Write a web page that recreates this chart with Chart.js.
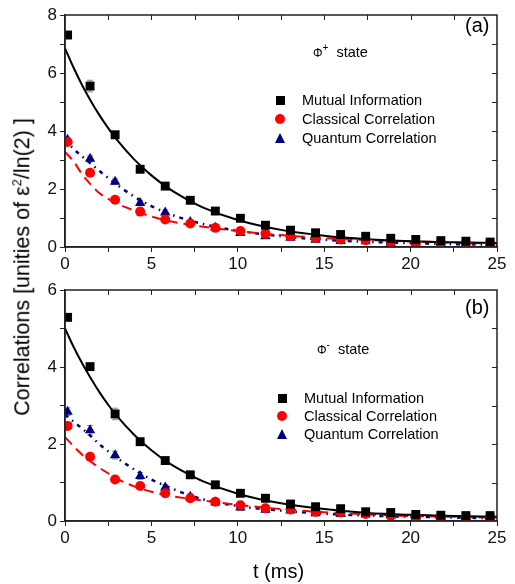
<!DOCTYPE html>
<html><head><meta charset="utf-8">
<script src="https://cdn.jsdelivr.net/npm/chart.js@4.4.0/dist/chart.umd.min.js"></script>
<style>
html,body{margin:0;padding:0;background:#fff;}
#wrap{position:relative;width:515px;height:584px;font-family:"Liberation Sans",Arial,sans-serif;color:#000;overflow:hidden;}
canvas{position:absolute;left:0;}
#cA{top:0;}
#cB{top:270px;}
.t{position:absolute;white-space:nowrap;line-height:1;}
.leg{font-size:14.5px;}
.sq{position:absolute;width:9px;height:9px;background:#000;}
.ci{position:absolute;width:10px;height:10px;border-radius:50%;background:#ff0000;}
.tr{position:absolute;width:0;height:0;border-left:5.5px solid transparent;border-right:5.5px solid transparent;border-bottom:10px solid #000080;}
sup{line-height:0;}
</style>
</head>
<body>
<div id="wrap">
<canvas id="cA" width="515" height="270" style="width:515px;height:270px"></canvas>
<canvas id="cB" width="515" height="314" style="width:515px;height:314px"></canvas>

<div class="t" style="left:23px;top:267px;width:0;height:0;">
  <div class="t" style="font-size:21.5px;transform:translate(-50%,-50%) rotate(-90deg);">Correlations [unities of ε<sup style="font-size:13px;">2</sup>/ln(2) ]</div>
</div>
<div class="t" style="left:253px;top:561px;font-size:20px;">t (ms)</div>

<div class="t" style="left:465px;top:15px;font-size:20px;">(a)</div>
<div class="t" style="left:465px;top:297px;font-size:20px;">(b)</div>

<div class="t" style="left:313px;top:45px;font-size:14.5px;"><span style="font-size:12px;">Φ</span><sup style="font-size:10px;">+</sup>&nbsp; state</div>
<div class="t" style="left:317px;top:342px;font-size:14.5px;"><span style="font-size:12px;">Φ</span><sup style="font-size:10px;">-</sup>&nbsp; state</div>

<div class="sq" style="left:276px;top:96px;"></div>
<div class="t leg" style="left:302px;top:93px;">Mutual Information</div>
<div class="ci" style="left:275px;top:114px;"></div>
<div class="t leg" style="left:302px;top:112px;">Classical Correlation</div>
<div class="tr" style="left:275px;top:133px;"></div>
<div class="t leg" style="left:302px;top:131px;">Quantum Correlation</div>

<div class="sq" style="left:278px;top:394px;"></div>
<div class="t leg" style="left:304px;top:391px;">Mutual Information</div>
<div class="ci" style="left:277px;top:411px;"></div>
<div class="t leg" style="left:304px;top:409px;">Classical Correlation</div>
<div class="tr" style="left:277px;top:429px;"></div>
<div class="t leg" style="left:304px;top:427px;">Quantum Correlation</div>
</div>

<script>
// ---- data ----
const T_POINTS = [0.15, 1.45, 2.9, 4.35, 5.8, 7.25, 8.7, 10.15, 11.6, 13.05, 14.5, 15.95, 17.4, 18.85, 20.3, 21.75, 23.2, 24.6];

// panel (a)  Phi+ state
const A_MUTUAL    = [7.31, 5.55, 3.87, 2.68, 2.10, 1.61, 1.24, 0.99, 0.75, 0.58, 0.49, 0.43, 0.37, 0.30, 0.26, 0.22, 0.20, 0.17];
const A_MUTUAL_ERR= [0.12, 0.20, 0.08, 0.06, 0.05, 0.05, 0.04, 0.04, 0.04, 0.03, 0.03, 0.03, 0.03, 0.03, 0.03, 0.03, 0.03, 0.03];
const A_CLASSICAL = [3.62, 2.56, 1.63, 1.22, 0.95, 0.81, 0.66, 0.55, 0.46, 0.38, 0.32, 0.26, 0.23, 0.17, 0.14, 0.15, 0.14, 0.13];
const A_CLASS_ERR = [0.06, 0.06, 0.06, 0.05, 0.05, 0.05, 0.05, 0.05, 0.05, 0.05, 0.05, 0.05, 0.05, 0.05, 0.04, 0.04, 0.04, 0.04];
const A_QUANTUM   = [3.70, 3.04, 2.25, 1.52, 1.19, 0.86, 0.66, 0.48, 0.37, 0.32, 0.25, 0.21, 0.20, 0.15, 0.12, 0.12, 0.09, 0.09];
const A_QUANT_ERR = [0.08, 0.10, 0.10, 0.08, 0.08, 0.07, 0.07, 0.07, 0.07, 0.07, 0.07, 0.06, 0.06, 0.06, 0.05, 0.05, 0.05, 0.05];

// panel (b)  Phi- state
const B_MUTUAL    = [5.29, 4.01, 2.78, 2.06, 1.57, 1.20, 0.94, 0.72, 0.59, 0.44, 0.37, 0.32, 0.24, 0.22, 0.17, 0.15, 0.14, 0.14];
const B_MUTUAL_ERR= [0.06, 0.06, 0.15, 0.05, 0.05, 0.04, 0.04, 0.04, 0.04, 0.03, 0.03, 0.03, 0.03, 0.03, 0.03, 0.03, 0.03, 0.03];
const B_CLASSICAL = [2.47, 1.67, 1.08, 0.91, 0.72, 0.59, 0.50, 0.41, 0.33, 0.30, 0.24, 0.22, 0.18, 0.14, 0.12, 0.10, 0.10, 0.10];
const B_CLASS_ERR = [0.06, 0.08, 0.08, 0.07, 0.06, 0.06, 0.06, 0.06, 0.05, 0.05, 0.05, 0.05, 0.05, 0.05, 0.04, 0.04, 0.04, 0.04];
const B_QUANTUM   = [2.84, 2.36, 1.71, 1.17, 0.87, 0.63, 0.48, 0.35, 0.29, 0.27, 0.20, 0.18, 0.17, 0.14, 0.10, 0.09, 0.09, 0.10];
const B_QUANT_ERR = [0.10, 0.12, 0.10, 0.09, 0.08, 0.08, 0.08, 0.08, 0.07, 0.07, 0.07, 0.06, 0.06, 0.06, 0.05, 0.05, 0.05, 0.05];

// fitted curves, sampled off the figure
const T_FIT = [0, 0.5, 1, 1.5, 2, 2.5, 3, 4, 5, 6, 7, 8, 10, 12.5, 15, 17.5, 20, 22.5, 25];
const A_MUTUAL_FIT    = [6.85, 6.18, 5.57, 5.03, 4.54, 4.10, 3.70, 3.02, 2.47, 2.02, 1.66, 1.36, 0.93, 0.59, 0.39, 0.27, 0.20, 0.16, 0.14];
const A_CLASSICAL_FIT = [3.28, 2.95, 2.50, 2.15, 1.85, 1.66, 1.50, 1.26, 1.05, 0.90, 0.79, 0.70, 0.55, 0.41, 0.31, 0.24, 0.19, 0.15, 0.12];
const A_QUANTUM_FIT   = [3.70, 3.38, 3.12, 2.87, 2.62, 2.38, 2.15, 1.74, 1.41, 1.15, 0.95, 0.79, 0.56, 0.37, 0.25, 0.18, 0.13, 0.10, 0.08];
const B_MUTUAL_FIT    = [5.00, 4.52, 4.09, 3.70, 3.34, 3.02, 2.73, 2.24, 1.84, 1.51, 1.25, 1.03, 0.71, 0.46, 0.31, 0.21, 0.16, 0.13, 0.11];
const B_CLASSICAL_FIT = [2.18, 1.94, 1.72, 1.54, 1.38, 1.24, 1.10, 0.90, 0.76, 0.66, 0.59, 0.53, 0.42, 0.31, 0.23, 0.17, 0.13, 0.11, 0.09];
const B_QUANTUM_FIT   = [2.76, 2.58, 2.40, 2.20, 1.99, 1.81, 1.64, 1.34, 1.08, 0.88, 0.70, 0.56, 0.39, 0.27, 0.19, 0.14, 0.11, 0.09, 0.07];

// tick labels
const X_TICK_LABELS = [0, 5, 10, 15, 20, 25];
const A_Y_TICK_LABELS = [0, 2, 4, 6, 8];
const B_Y_TICK_LABELS = [0, 2, 4, 6];

const AXIS = '#222';
const FONT = 'Liberation Sans, Arial, sans-serif';

const errorBars = {
  id: 'errorBars',
  beforeDatasetsDraw(chart) {
    const ctx = chart.ctx, ys = chart.scales.y;
    ctx.save();
    ctx.strokeStyle = '#8a8a8a';
    ctx.lineWidth = 1;
    chart.data.datasets.forEach((ds, di) => {
      if (!ds.errors) return;
      const meta = chart.getDatasetMeta(di);
      meta.data.forEach((pt, i) => {
        const e = ds.errors[i]; if (!e) return;
        const v = ds.data[i].y;
        const y1 = ys.getPixelForValue(v + e), y2 = ys.getPixelForValue(v - e);
        ctx.beginPath();
        ctx.moveTo(pt.x, y1); ctx.lineTo(pt.x, y2);
        ctx.moveTo(pt.x - 3, y1); ctx.lineTo(pt.x + 3, y1);
        ctx.moveTo(pt.x - 3, y2); ctx.lineTo(pt.x + 3, y2);
        ctx.stroke();
      });
    });
    ctx.restore();
  }
};

const frame = {
  id: 'frame',
  afterDraw(chart) {
    const ctx = chart.ctx, a = chart.chartArea;
    const xs = chart.scales.x, ys = chart.scales.y;
    ctx.save();
    ctx.strokeStyle = AXIS;
    ctx.lineWidth = 1.5;
    ctx.strokeRect(a.left, a.top, a.right - a.left, a.bottom - a.top);
    ctx.lineWidth = 1;
    ctx.beginPath();
    xs.ticks.forEach(t => {
      const px = Math.round(xs.getPixelForValue(t.value)) + 0.5;
      if (px <= a.left + 1 || px >= a.right - 1) return;
      ctx.moveTo(px, a.top); ctx.lineTo(px, a.top + 5);
    });
    ys.ticks.forEach(t => {
      const py = Math.round(ys.getPixelForValue(t.value)) + 0.5;
      if (py <= a.top + 1 || py >= a.bottom - 1) return;
      ctx.moveTo(a.right, py); ctx.lineTo(a.right - 5, py);
    });
    ctx.stroke();
    ctx.restore();
  }
};

function pts(xs, ys) { return xs.map((x, i) => ({ x: x, y: ys[i] })); }

function makePanel(id, d, yMax, yLabels, padTop, xHeight) {
  return new Chart(document.getElementById(id), {
    type: 'scatter',
    data: {
      datasets: [
        { label: 'Mutual Information', data: pts(T_POINTS, d.mi), errors: d.miErr, pointStyle: 'rect', pointRadius: 6.3, backgroundColor: '#000', borderColor: '#000', borderWidth: 0 },
        { label: 'Classical Correlation', data: pts(T_POINTS, d.cl), errors: d.clErr, pointStyle: 'circle', pointRadius: 5, backgroundColor: '#ff0000', borderColor: '#ff0000', borderWidth: 0 },
        { label: 'Quantum Correlation', data: pts(T_POINTS, d.qu), errors: d.quErr, pointStyle: 'triangle', pointRadius: 6, backgroundColor: '#000080', borderColor: '#000080', borderWidth: 0 },
        { label: 'MI fit', data: pts(T_FIT, d.miFit), showLine: true, pointRadius: 0, borderColor: '#000', borderWidth: 2, cubicInterpolationMode: 'monotone', fill: false },
        { label: 'CC fit', data: pts(T_FIT, d.clFit), showLine: true, pointRadius: 0, borderColor: '#ff0000', borderWidth: 2, borderDash: [10, 6], cubicInterpolationMode: 'monotone', fill: false },
        { label: 'QC fit', data: pts(T_FIT, d.quFit), showLine: true, pointRadius: 0, borderColor: '#000080', borderWidth: 2.5, borderDash: [4, 5, 1.5, 5], cubicInterpolationMode: 'monotone', fill: false }
      ]
    },
    options: {
      responsive: false, animation: false, devicePixelRatio: 1,
      layout: { padding: { top: padTop, right: 18, left: 0, bottom: 0 } },
      plugins: { legend: { display: false }, tooltip: { enabled: false } },
      scales: {
        x: {
          type: 'linear', min: 0, max: 25,
          afterFit: s => { s.height = xHeight; },
          ticks: { stepSize: 2.5, autoSkip: false, maxRotation: 0, padding: 2, color: '#111', font: { family: FONT, size: 17 },
                   callback: v => X_TICK_LABELS.includes(v) ? String(v) : '' },
          grid: { drawOnChartArea: false, drawTicks: true, tickLength: 5, color: AXIS, lineWidth: 1 },
          border: { display: true, color: AXIS, width: 1.5 }
        },
        y: {
          min: 0, max: yMax,
          afterFit: s => { s.width = 65; },
          ticks: { stepSize: 1, autoSkip: false, padding: 3, color: '#111', font: { family: FONT, size: 17 },
                   callback: v => yLabels.includes(v) ? String(v) : '' },
          grid: { drawOnChartArea: false, drawTicks: true, tickLength: 5, color: AXIS, lineWidth: 1 },
          border: { display: true, color: AXIS, width: 1.5 }
        }
      }
    },
    plugins: [errorBars, frame]
  });
}

makePanel('cA', { mi: A_MUTUAL, miErr: A_MUTUAL_ERR, cl: A_CLASSICAL, clErr: A_CLASS_ERR, qu: A_QUANTUM, quErr: A_QUANT_ERR,
                  miFit: A_MUTUAL_FIT, clFit: A_CLASSICAL_FIT, quFit: A_QUANTUM_FIT }, 8, A_Y_TICK_LABELS, 15, 23);
makePanel('cB', { mi: B_MUTUAL, miErr: B_MUTUAL_ERR, cl: B_CLASSICAL, clErr: B_CLASS_ERR, qu: B_QUANTUM, quErr: B_QUANT_ERR,
                  miFit: B_MUTUAL_FIT, clFit: B_CLASSICAL_FIT, quFit: B_QUANTUM_FIT }, 6, B_Y_TICK_LABELS, 20, 63);
</script>
</body></html>
